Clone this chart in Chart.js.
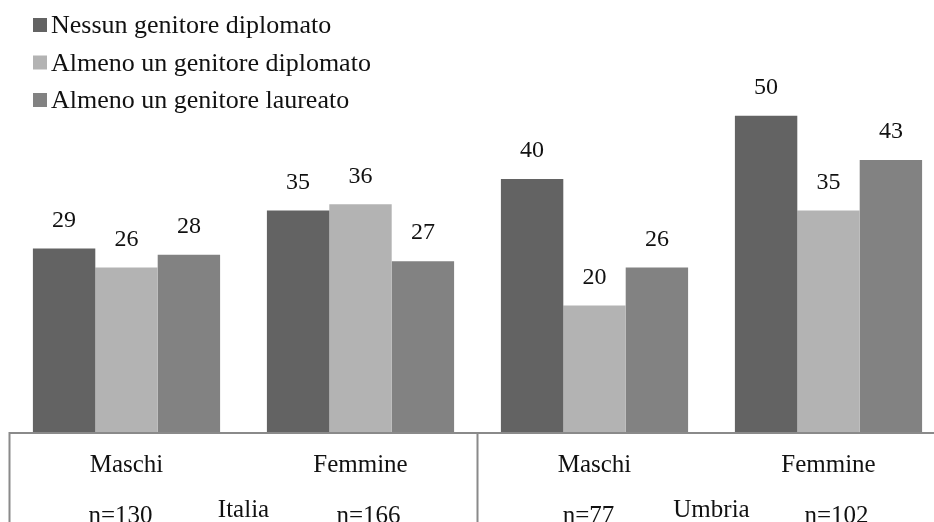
<!DOCTYPE html>
<html>
<head>
<meta charset="utf-8">
<script src="https://cdn.jsdelivr.net/npm/chart.js@4"></script>
<style>
  html, body { margin: 0; padding: 0; background: #fff; overflow: hidden; }
  #wrap { width: 950px; height: 540px; }
</style>
</head>
<body>
<div id="wrap"><canvas id="chart" width="950" height="540"></canvas></div>
<script>
// Categorie (sesso) e gruppi territoriali
const categorie = ['Maschi', 'Femmine', 'Maschi', 'Femmine'];
const campioni = ['n=130', 'n=166', 'n=77', 'n=102'];
const territori = ['Italia', 'Umbria'];

// Serie: titolo di studio dei genitori (%)
const nessunDiplomato = [29, 35, 40, 50];
const almenoDiplomato = [26, 36, 20, 35];
const almenoLaureato = [28, 27, 26, 43];

const serieNomi = ['Nessun genitore diplomato', 'Almeno un genitore diplomato', 'Almeno un genitore laureato'];
const serieColori = ['#636363', '#b3b3b3', '#828282'];

const FONT = '"Liberation Serif", "DejaVu Serif", serif';
const LINE = '#8a8a8a';

// etichette con il valore sopra ogni barra
const valoriPlugin = {
    id: 'valori',
    afterDatasetsDraw(chart) {
        const ctx = chart.ctx;
        ctx.save();
        ctx.font = '24px ' + FONT;
        ctx.fillStyle = '#111';
        ctx.textAlign = 'center';
        ctx.textBaseline = 'middle';
        chart.data.datasets.forEach((ds, i) => {
            chart.getDatasetMeta(i).data.forEach((bar, j) => {
                ctx.fillText(String(ds.data[j]), bar.x, bar.y - 28);
            });
        });
        ctx.restore();
    }
};

// legenda verticale in alto a sinistra
const legendaPlugin = {
    id: 'legenda',
    afterDraw(chart) {
        const ctx = chart.ctx;
        ctx.save();
        ctx.font = '26px ' + FONT;
        ctx.textBaseline = 'alphabetic';
        serieNomi.forEach((nome, i) => {
            const y = 25 + i * 37.5;
            ctx.fillStyle = serieColori[i];
            ctx.fillRect(33, y - 7, 14, 14);
            ctx.fillStyle = '#111';
            ctx.fillText(nome, 51, y + 8);
        });
        ctx.restore();
    }
};

// tabella sotto l'asse: linee, categorie, numerosità e territorio
const tabellaPlugin = {
    id: 'tabella',
    afterDraw(chart) {
        const ctx = chart.ctx;
        const x = chart.scales.x;
        const base = chart.chartArea.bottom;
        const slot = x.getPixelForValue(1) - x.getPixelForValue(0);
        const sinistra = x.getPixelForValue(0) - slot / 2;
        const centro = (x.getPixelForValue(1) + x.getPixelForValue(2)) / 2;

        ctx.save();
        ctx.strokeStyle = LINE;
        ctx.lineWidth = 2;
        ctx.beginPath();
        ctx.moveTo(sinistra, base + 1);
        ctx.lineTo(chart.width, base + 1);
        ctx.moveTo(sinistra, base);
        ctx.lineTo(sinistra, chart.height);
        ctx.moveTo(centro, base);
        ctx.lineTo(centro, chart.height);
        ctx.stroke();

        ctx.font = '25px ' + FONT;
        ctx.fillStyle = '#111';
        ctx.textAlign = 'center';
        ctx.textBaseline = 'alphabetic';
        categorie.forEach((c, i) => {
            const cx = x.getPixelForValue(i);
            ctx.fillText(c, cx, base + 40);
            ctx.fillText(campioni[i], cx + (i % 2 === 0 ? -6 : 8), base + 91);
        });
        territori.forEach((t, k) => {
            const cx = (x.getPixelForValue(2 * k) + x.getPixelForValue(2 * k + 1)) / 2;
            ctx.fillText(t, cx, base + 85);
        });
        ctx.restore();
    }
};

const datasets = [nessunDiplomato, almenoDiplomato, almenoLaureato].map((dati, i) => ({
    label: serieNomi[i],
    data: dati,
    backgroundColor: serieColori[i],
    borderWidth: 0,
    categoryPercentage: 0.8,
    barPercentage: 1.0
}));

new Chart(document.getElementById('chart'), {
    type: 'bar',
    data: { labels: categorie, datasets: datasets },
    options: {
        responsive: false,
        animation: false,
        layout: { padding: { left: 9.5, right: 4.5, top: 84, bottom: 108 } },
        plugins: {
            legend: { display: false },
            tooltip: { enabled: false }
        },
        scales: {
            x: { display: false },
            y: { display: false, min: 0, max: 55 }
        }
    },
    plugins: [valoriPlugin, legendaPlugin, tabellaPlugin]
});
</script>
</body>
</html>
